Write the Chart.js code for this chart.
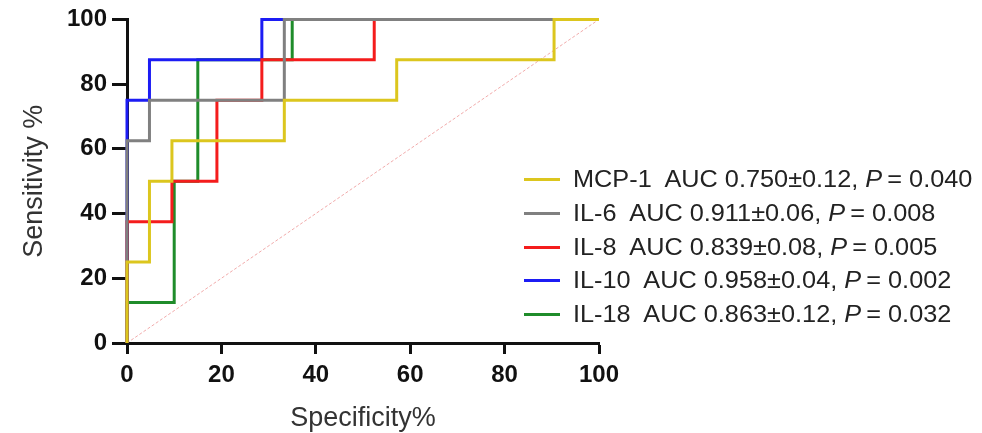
<!DOCTYPE html>
<html lang="en">
<head>
    <meta charset="UTF-8">
    <title>ROC curves</title>
    <script src="https://cdn.jsdelivr.net/npm/chart.js"></script>
    <style>
        body { margin: 0; background: #fff; }
        .wrap { position: relative; width: 982px; height: 433px; }
        .legend {
            position: absolute;
            left: 524px;
            top: 163px;
            font-family: "Liberation Sans", Arial, sans-serif;
            font-size: 23px;
            color: #222;
        }
        .legend .row { height: 33.7px; display: flex; align-items: center; white-space: nowrap; }
        .legend .swatch { width: 36px; height: 3px; margin-right: 13px; }
        .legend .txt { display: inline-block; transform: scaleX(1.1); transform-origin: left center; }
    </style>
</head>
<body>
    <div class="wrap">
        <canvas id="roc" width="982" height="433"></canvas>
        <div class="legend" id="legend"></div>
    </div>

    <script>
        // ROC operating points (x = Specificity%, y = Sensitivity %)
        const mcp1X = [0, 0, 4.76, 4.76, 9.52, 9.52, 33.33, 33.33, 57.14, 57.14, 90.48, 90.48, 100];
        const mcp1Y = [0, 25, 25, 50, 50, 62.5, 62.5, 75, 75, 87.5, 87.5, 100, 100];
        const il6X = [0, 0, 4.76, 4.76, 33.33, 33.33, 100];
        const il6Y = [0, 62.5, 62.5, 75, 75, 100, 100];
        const il8X = [0, 0, 9.52, 9.52, 19.05, 19.05, 28.57, 28.57, 52.38, 52.38, 100];
        const il8Y = [0, 37.5, 37.5, 50, 50, 75, 75, 87.5, 87.5, 100, 100];
        const il10X = [0, 0, 4.76, 4.76, 28.57, 28.57, 100];
        const il10Y = [0, 75, 75, 87.5, 87.5, 100, 100];
        const il18X = [0, 0, 10, 10, 15, 15, 35, 35, 100];
        const il18Y = [0, 12.5, 12.5, 50, 50, 87.5, 87.5, 100, 100];
        const refX = [0, 100];
        const refY = [0, 100];

        const names = ['MCP-1', 'IL-6', 'IL-8', 'IL-10', 'IL-18'];
        const aucText = ['AUC 0.750±0.12,', 'AUC 0.911±0.06,', 'AUC 0.839±0.08,', 'AUC 0.958±0.04,', 'AUC 0.863±0.12,'];
        const pText = ['= 0.040', '= 0.008', '= 0.005', '= 0.002', '= 0.032'];
        const colors = ['#dcc61e', '#808080', '#f41c1c', '#1c1cf4', '#1f8c2a'];

        const xTicks = [0, 20, 40, 60, 80, 100];
        const yTicks = [0, 20, 40, 60, 80, 100];

        function pts(xs, ys) {
            return xs.map((x, i) => ({ x: x, y: ys[i] }));
        }

        const series = [
            pts(mcp1X, mcp1Y),
            pts(il6X, il6Y),
            pts(il8X, il8Y),
            pts(il10X, il10Y),
            pts(il18X, il18Y)
        ];

        const datasets = series.map((d, i) => ({
            label: names[i],
            data: d,
            borderColor: colors[i],
            borderWidth: 3,
            pointRadius: 0,
            fill: false,
            tension: 0,
            clip: 6
        }));
        // chance line, drawn last so it sits underneath
        datasets.push({
            label: 'reference',
            data: pts(refX, refY),
            borderColor: 'rgba(238, 150, 150, 0.8)',
            borderWidth: 1,
            borderDash: [3, 2],
            pointRadius: 0,
            fill: false
        });

        const tickFont = { family: '"Liberation Sans", Arial, sans-serif', size: 24, weight: 'bold' };
        const titleFont = { family: '"Liberation Sans", Arial, sans-serif', size: 27, lineHeight: 1.05 };

        new Chart(document.getElementById('roc'), {
            type: 'line',
            data: { datasets: datasets },
            options: {
                responsive: false,
                animation: false,
                layout: { padding: { left: 0, top: 18, right: 383, bottom: 0 } },
                scales: {
                    x: {
                        type: 'linear',
                        min: 0,
                        max: 100,
                        afterBuildTicks: s => { s.ticks = xTicks.map(v => ({ value: v })); },
                        afterFit: s => { s.height = 90; },
                        border: { display: true, color: '#111', width: 3 },
                        grid: { drawOnChartArea: false, drawTicks: true, tickLength: 11, tickWidth: 3, tickColor: '#111' },
                        ticks: { color: '#111', font: tickFont, padding: 7, maxRotation: 0 },
                        title: { display: true, text: 'Specificity%', color: '#333', font: titleFont, padding: { top: 0, bottom: 0 } }
                    },
                    y: {
                        type: 'linear',
                        min: 0,
                        max: 100,
                        afterBuildTicks: s => { s.ticks = yTicks.map(v => ({ value: v })); },
                        afterFit: s => { s.width = 127; },
                        border: { display: true, color: '#111', width: 3 },
                        grid: { drawOnChartArea: false, drawTicks: true, tickLength: 15, tickWidth: 3, tickColor: '#111' },
                        ticks: { color: '#111', font: tickFont, padding: 5 },
                        title: { display: true, text: 'Sensitivity %', color: '#333', font: titleFont, padding: { top: 20, bottom: 0 } }
                    }
                },
                plugins: {
                    legend: { display: false },
                    tooltip: { enabled: false }
                }
            }
        });

        // legend as plain html, overlapping the plot like in the figure
        const legend = document.getElementById('legend');
        names.forEach((n, i) => {
            const row = document.createElement('div');
            row.className = 'row';
            row.innerHTML = '<span class="swatch" style="background:' + colors[i] + '"></span>' +
                '<span class="txt">' + n + '&nbsp; ' + aucText[i] + ' <i>P</i>&thinsp;' + pText[i] + '</span>';
            legend.appendChild(row);
        });
    </script>
</body>
</html>
